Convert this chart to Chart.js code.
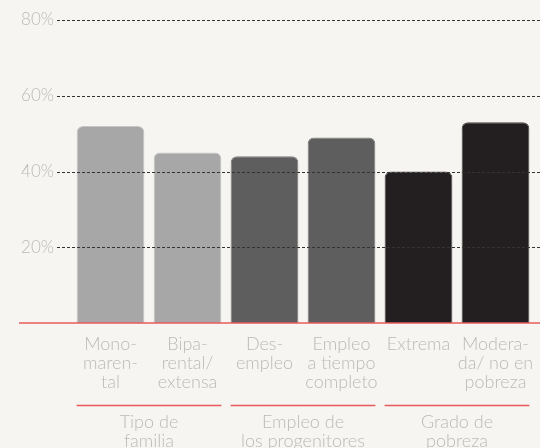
<!DOCTYPE html>
<html>
<head>
<meta charset="utf-8">
<script src="https://cdn.jsdelivr.net/npm/chart.js@4/dist/chart.umd.min.js"></script>
<style>
  html, body { margin: 0; padding: 0; background: #f6f5f1; }
  #wrap { width: 540px; height: 448px; position: relative; }
</style>
</head>
<body>
<div id="wrap"><canvas id="chart"></canvas></div>
<script>
const categories = [
    ['Mono-', 'maren-', 'tal'],
    ['Bipa-', 'rental/', 'extensa'],
    ['Des-', 'empleo'],
    ['Empleo', 'a tiempo', 'completo'],
    ['Extrema'],
    ['Modera-', 'da/ no en', 'pobreza']
];
const values = [52, 45, 44, 49, 40, 53];
const barColors = ['#a6a7a6', '#a6a7a6', '#5e5e5e', '#5e5e5e', '#231f20', '#231f20'];
const barEdges = ['#c4c5c4', '#c4c5c4', '#7a7a7a', '#7a7a7a', '#4a4647', '#4a4647'];
const groups = [['Tipo de', 'familia'], ['Empleo de', 'los progenitores'], ['Grado de', 'pobreza']];
const groupSpans = [[0, 1], [2, 3], [4, 5]];
const yTicks = [20, 40, 60, 80];

const textGray = '#bababa';
const red = '#e85a5c';
const fontFamily = 'Lato, "Open Sans", sans-serif';

// dashed gridlines over the bars, red baseline, group labels
const overlay = {
    id: 'overlay',
    afterDatasetsDraw(chart) {
        const ctx = chart.ctx;
        const y = chart.scales.y;
        const x = chart.scales.x;
        const w = chart.width;
        ctx.save();
        ctx.lineWidth = 1;
        ctx.strokeStyle = '#333';
        ctx.setLineDash([3, 2]);
        yTicks.forEach(t => {
            const py = Math.round(y.getPixelForValue(t)) + 0.5;
            ctx.beginPath();
            ctx.moveTo(57, py);
            ctx.lineTo(w, py);
            ctx.stroke();
        });
        ctx.setLineDash([]);
        ctx.strokeStyle = red;
        ctx.lineWidth = 1.5;
        const base = y.getPixelForValue(0);
        ctx.beginPath();
        ctx.moveTo(19, base);
        ctx.lineTo(w, base);
        ctx.stroke();

        const step = x.getPixelForValue(1) - x.getPixelForValue(0);
        const barHalf = step * 0.88 / 2;
        ctx.fillStyle = textGray;
        ctx.font = '300 18px ' + fontFamily;
        ctx.textAlign = 'center';
        ctx.textBaseline = 'middle';
        groupSpans.forEach((s, i) => {
            const x0 = x.getPixelForValue(s[0]) - barHalf;
            const x1 = x.getPixelForValue(s[1]) + barHalf;
            ctx.beginPath();
            ctx.moveTo(x0, 405.5);
            ctx.lineTo(x1, 405.5);
            ctx.stroke();
            const cx = (x0 + x1) / 2;
            groups[i].forEach((line, j) => {
                ctx.fillText(line, cx, 422 + j * 19);
            });
        });
        ctx.restore();
    }
};

new Chart(document.getElementById('chart'), {
    type: 'bar',
    data: {
        labels: categories,
        datasets: [{
            data: values,
            backgroundColor: barColors,
            borderColor: barEdges,
            borderWidth: { top: 1, left: 1, right: 1, bottom: 0 },
            borderRadius: { topLeft: 6, topRight: 6, bottomLeft: 0, bottomRight: 0 },
            borderSkipped: 'bottom',
            barPercentage: 0.88,
            categoryPercentage: 1
        }]
    },
    options: {
        responsive: true,
        maintainAspectRatio: false,
        animation: false,
        layout: { autoPadding: false, padding: { top: 20, right: 6, left: 0, bottom: 0 } },
        plugins: { legend: { display: false }, tooltip: { enabled: false } },
        scales: {
            x: {
                grid: { display: false, drawTicks: false },
                border: { display: false },
                ticks: {
                    color: textGray,
                    font: { family: fontFamily, size: 18, weight: 300, lineHeight: '19px' },
                    padding: 12,
                    maxRotation: 0,
                    autoSkip: false
                },
                afterFit(s) {
                    s.height = 125;
                    s.paddingLeft = 0;
                    s.paddingRight = 0;
                }
            },
            y: {
                min: 0,
                max: 80,
                grid: { display: false, drawTicks: false },
                border: { display: false },
                ticks: {
                    stepSize: 20,
                    color: textGray,
                    font: { family: fontFamily, size: 17, weight: 300 },
                    padding: 18,
                    callback: v => v === 0 ? '' : v + '%'
                },
                afterFit(s) {
                    s.width = 72;
                    s.paddingTop = 0;
                    s.paddingBottom = 0;
                }
            }
        }
    },
    plugins: [overlay]
});
</script>
</body>
</html>
